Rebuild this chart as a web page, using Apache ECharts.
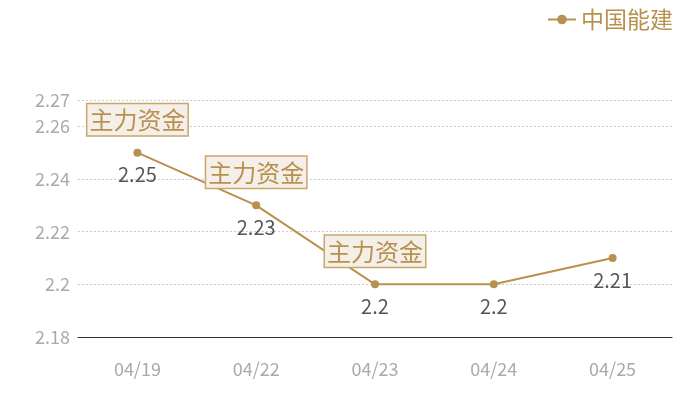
<!DOCTYPE html>
<html><head><meta charset="utf-8">
<script src="https://cdn.jsdelivr.net/npm/echarts@6/dist/echarts.min.js"></script>
<style>html,body{margin:0;padding:0;background:#fff}#c{width:700px;height:400px}</style>
</head><body><div id="c"></div>
<script>
var categories = ['04/19','04/22','04/23','04/24','04/25'];
var values = [2.25, 2.23, 2.2, 2.2, 2.21];
var markIndices = [0, 1, 2];
var markText = '主力资金';
var seriesName = '中国能建';

var font = 'Noto Sans CJK SC';
var gold = '#b8914f';
var chart = echarts.init(document.getElementById('c'));
chart.setOption({
  animation: false,
  textStyle: {fontFamily: font},
  legend: {
    right: 22, top: 3, itemWidth: 28, itemHeight: 12, itemGap: 6,
    textStyle: {fontSize: 23, color: gold, fontFamily: font},
    data: [seriesName]
  },
  grid: {left: 78, right: 28, top: 100, bottom: 63},
  xAxis: {
    type: 'category', data: categories, boundaryGap: true,
    axisLine: {lineStyle: {color: '#333'}},
    axisTick: {show: false},
    axisLabel: {color: '#aaa', fontSize: 18, margin: 23, fontFamily: font}
  },
  yAxis: {
    type: 'value', min: 2.18, max: 2.27, interval: 0.02,
    axisLine: {show: false}, axisTick: {show: false},
    axisLabel: {color: '#aaa', fontSize: 18, margin: 8, fontFamily: font,
      showMaxLabel: true},
    splitLine: {lineStyle: {color: '#ccc', type: [2, 2]}}
  },
  series: [{
    name: seriesName, type: 'line', data: values,
    symbol: 'circle', symbolSize: 8,
    itemStyle: {color: gold}, lineStyle: {color: gold, width: 2},
    label: {show: true, position: 'bottom', distance: 8, color: '#555', fontSize: 20, fontFamily: font},
    markPoint: {
      symbol: 'circle', symbolSize: 1,
      itemStyle: {color: 'rgba(0,0,0,0)'},
      label: {
        show: true, position: 'top', distance: 17,
        formatter: markText, color: gold, fontSize: 24, fontFamily: font,
        backgroundColor: '#f4efe8', borderColor: '#caa66a', borderWidth: 1.5,
        padding: [4, 2, 3, 2]
      },
      data: markIndices.map(function(i){ return {coord: [i, values[i]], value: markText}; })
    }
  }]
});
</script></body></html>
